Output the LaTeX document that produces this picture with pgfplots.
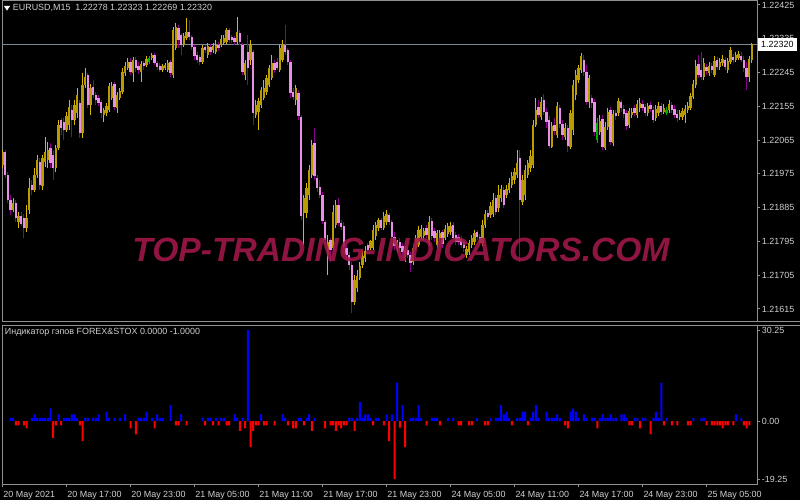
\documentclass[border=0pt]{standalone}
\usepackage{pgfplots}
\pgfplotsset{compat=1.18}
\usepackage{pgfplotstable}
\usepackage{graphicx}
\usepackage{fontspec}
\setmainfont{Liberation Sans}
\definecolor{bullw}{HTML}{D8B800}
\definecolor{bullb}{HTML}{B89C00}
\definecolor{bearw}{HTML}{8B008B}
\definecolor{bearb}{HTML}{E890E8}
\definecolor{greenc}{HTML}{00B000}
\definecolor{txt}{HTML}{D0D0D0}
\definecolor{frame}{HTML}{909090}
\definecolor{pline}{HTML}{7C8894}
\definecolor{wm}{HTML}{A3174B}

% prices in units of 0.00001 above 1.21000 ; t: 1 bull, 2 bear, 3 green
\pgfplotstableread{
i o h l c t
0 999 1039 991 1034 1
1 1034 1039 964 972 2
2 972 980 897 905 2
3 905 919 866 879 2
4 879 911 874 897 1
5 897 905 847 858 2
6 847 874 831 863 1
7 863 874 836 841 2
8 858 868 804 831 2
9 831 892 820 858 1
10 879 964 868 938 1
11 946 959 919 932 2
12 932 991 927 972 1
13 972 1026 964 1012 1
14 1007 1018 932 946 2
15 943 1026 932 1018 1
16 1007 1073 993 1034 1
17 1012 1060 991 1039 1
18 1044 1057 991 1004 2
19 1026 1039 959 991 2
20 991 1052 980 1044 1
21 1044 1118 1039 1105 1
22 1118 1124 1079 1097 2
23 1113 1124 1065 1092 2
24 1092 1140 1087 1129 1
25 1105 1172 1092 1153 1
26 1145 1159 1073 1118 2
27 1118 1172 1105 1159 1
28 1137 1204 1124 1185 1
29 1164 1172 1071 1084 2
30 1084 1244 1071 1212 1
31 1212 1257 1204 1233 1
32 1239 1244 1151 1159 2
33 1159 1214 1132 1204 1
34 1206 1225 1177 1185 2
35 1185 1193 1159 1172 2
36 1177 1185 1156 1164 2
37 1167 1172 1124 1137 2
38 1132 1151 1113 1145 1
39 1137 1164 1129 1156 1
40 1145 1217 1140 1209 1
41 1177 1220 1172 1209 1
42 1214 1220 1145 1153 2
43 1151 1193 1137 1185 1
44 1177 1204 1172 1195 1
45 1193 1257 1187 1247 1
46 1244 1273 1236 1262 1
47 1257 1284 1252 1273 1
48 1273 1284 1239 1247 2
49 1244 1286 1220 1278 1
50 1278 1286 1247 1257 2
51 1262 1273 1241 1252 2
52 1247 1275 1220 1267 1
53 1270 1275 1252 1262 2
54 1265 1289 1259 1281 1
55 1273 1289 1267 1284 3
56 1284 1297 1278 1292 1
57 1292 1297 1265 1270 2
58 1270 1275 1252 1259 2
59 1262 1270 1247 1252 2
60 1252 1267 1247 1262 1
61 1257 1270 1252 1265 1
62 1252 1278 1247 1270 1
63 1273 1278 1233 1244 2
64 1239 1366 1231 1358 1
65 1311 1377 1305 1366 1
66 1364 1372 1311 1332 2
67 1345 1350 1292 1319 2
68 1319 1350 1313 1342 1
69 1337 1390 1332 1353 1
70 1353 1385 1332 1339 2
71 1339 1345 1305 1313 2
72 1313 1319 1278 1289 2
73 1292 1300 1270 1278 2
74 1286 1292 1265 1273 2
75 1273 1319 1267 1311 1
76 1313 1319 1297 1305 2
77 1292 1324 1284 1316 1
78 1313 1321 1292 1300 2
79 1305 1324 1297 1316 1
80 1300 1332 1295 1319 1
81 1319 1327 1302 1311 2
82 1319 1345 1313 1334 1
83 1324 1345 1319 1337 1
84 1327 1364 1321 1358 1
85 1358 1364 1324 1332 2
86 1339 1345 1324 1332 2
87 1337 1342 1319 1327 2
88 1327 1393 1321 1353 1
89 1350 1358 1319 1327 2
90 1319 1324 1239 1247 2
91 1239 1278 1225 1270 1
92 1300 1345 1212 1257 2
93 1278 1332 1265 1319 1
94 1300 1305 1105 1137 2
95 1132 1172 1124 1159 1
96 1140 1177 1092 1169 1
97 1159 1206 1151 1198 1
98 1177 1225 1172 1204 1
99 1193 1239 1185 1231 1
100 1212 1265 1206 1257 1
101 1231 1292 1225 1270 1
102 1270 1278 1244 1252 2
103 1273 1284 1252 1257 2
104 1252 1319 1247 1311 1
105 1278 1332 1273 1321 1
106 1319 1372 1292 1300 2
107 1305 1311 1265 1273 2
108 1273 1278 1177 1190 2
109 1193 1204 1172 1180 2
110 1172 1212 1159 1204 1
111 1190 1198 1118 1129 2
112 1126 1132 852 863 2
113 871 919 786 911 1
114 871 951 858 938 1
115 919 999 905 985 1
116 972 1065 964 1052 1
117 1057 1097 959 970 2
118 964 972 927 938 2
119 940 959 911 919 2
120 919 927 841 849 2
121 847 852 786 799 2
122 759 812 706 794 1
123 799 804 741 772 2
124 778 892 772 874 1
125 839 905 831 892 1
126 892 911 836 844 2
127 844 852 825 833 2
128 836 847 767 780 2
129 778 786 746 759 2
130 759 767 719 732 2
131 732 741 604 634 2
132 634 706 626 692 1
133 671 719 661 703 1
134 698 741 692 730 1
135 732 772 725 756 1
136 751 783 741 770 1
137 786 791 764 772 2
138 778 799 772 796 1
139 778 839 772 825 1
140 810 847 799 839 1
141 831 858 823 852 1
142 852 858 825 831 2
143 831 874 825 863 1
144 847 879 839 868 1
145 866 871 839 847 2
146 847 852 799 807 2
147 807 820 772 783 2
148 778 799 767 796 1
149 794 804 767 778 2
150 783 791 751 767 2
151 751 783 741 772 1
152 772 783 751 759 2
153 759 767 714 738 2
154 741 786 732 778 1
155 778 812 772 804 1
156 786 836 780 825 1
157 807 839 799 828 1
158 810 831 799 823 1
159 831 839 804 812 2
160 791 863 783 847 1
161 849 858 799 810 2
162 823 831 794 804 2
163 786 825 778 817 1
164 804 825 799 817 1
165 820 825 778 788 2
166 804 839 799 828 1
167 815 844 807 836 1
168 820 847 812 836 1
169 839 847 799 804 2
170 812 820 786 794 2
171 807 815 786 794 2
172 801 810 778 786 2
173 794 799 767 778 2
174 759 783 751 775 1
175 767 799 759 791 1
176 786 812 778 804 1
177 794 825 786 817 1
178 820 825 799 807 2
179 807 815 786 794 2
180 791 852 783 839 1
181 839 879 831 868 1
182 871 879 852 860 2
183 866 900 858 889 1
184 868 924 860 905 1
185 911 919 866 874 2
186 884 946 874 919 1
187 911 946 900 935 1
188 932 940 884 892 2
189 919 946 911 935 1
190 932 964 924 951 1
191 946 980 938 970 1
192 959 991 948 980 1
193 972 1039 964 1004 1
194 1018 1039 741 905 2
195 900 972 892 959 1
196 919 999 905 985 1
197 972 1012 964 1004 1
198 991 1039 980 1023 1
199 999 1118 991 1105 1
200 1105 1177 1100 1145 1
201 1153 1172 1124 1132 2
202 1126 1180 1118 1167 1
203 1172 1188 1132 1140 2
204 1140 1151 1097 1113 2
205 1118 1129 1044 1049 2
206 1047 1113 1044 1102 1
207 1105 1124 1079 1089 2
208 1079 1167 1071 1156 1
209 1151 1159 1097 1108 2
210 1108 1118 1065 1079 2
211 1073 1110 1065 1097 1
212 1097 1105 1034 1049 2
213 1047 1145 1041 1137 1
214 1092 1225 1079 1212 1
215 1185 1252 1172 1239 1
216 1225 1265 1217 1257 1
217 1252 1297 1244 1289 1
218 1278 1292 1236 1247 2
219 1247 1265 1159 1167 2
220 1167 1239 1151 1231 1
221 1177 1185 1151 1164 2
222 1167 1174 1076 1087 2
223 1065 1124 1057 1110 3
224 1087 1132 1079 1116 1
225 1121 1132 1039 1047 2
226 1044 1113 1039 1100 1
227 1100 1151 1092 1140 1
228 1145 1153 1052 1060 2
229 1057 1145 1049 1134 1
230 1137 1145 1118 1129 2
231 1137 1177 1129 1169 1
232 1167 1172 1140 1151 2
233 1148 1159 1124 1134 2
234 1137 1145 1092 1102 2
235 1105 1151 1097 1142 1
236 1132 1151 1124 1140 1
237 1151 1159 1129 1137 2
238 1132 1172 1124 1161 1
239 1151 1177 1140 1164 1
240 1161 1172 1142 1151 2
241 1153 1161 1129 1137 2
242 1137 1164 1129 1156 1
243 1159 1167 1140 1148 2
244 1145 1156 1110 1118 2
245 1124 1159 1116 1148 1
246 1137 1167 1129 1156 1
247 1156 1164 1132 1140 2
248 1140 1161 1134 1151 1
249 1137 1153 1132 1145 3
250 1145 1172 1137 1161 1
251 1159 1167 1137 1145 2
252 1148 1159 1124 1132 2
253 1134 1145 1113 1124 2
254 1126 1145 1118 1137 1
255 1126 1151 1118 1142 1
256 1132 1159 1110 1148 1
257 1145 1167 1137 1156 1
258 1151 1190 1145 1182 1
259 1180 1225 1174 1214 1
260 1212 1278 1204 1262 1
261 1267 1292 1231 1239 2
262 1252 1300 1225 1233 2
263 1233 1284 1225 1270 1
264 1259 1267 1239 1249 2
265 1244 1273 1236 1262 1
266 1262 1270 1244 1252 2
267 1239 1289 1233 1275 1
268 1278 1286 1252 1259 2
269 1259 1284 1252 1273 1
270 1270 1292 1262 1281 1
271 1278 1286 1252 1259 2
272 1252 1284 1244 1275 1
273 1273 1313 1267 1305 1
274 1286 1295 1270 1278 2
275 1278 1300 1273 1292 1
276 1284 1302 1278 1295 1
277 1289 1300 1273 1278 2
278 1278 1289 1247 1257 2
279 1257 1273 1198 1233 2
280 1233 1289 1220 1281 1
281 1278 1324 1270 1320 1
}\candles

\pgfplotstableread{
i v
3 1.1
4 1.1
5 -1.4
6 -1.4
8 -1.4
9 -2.4
11 1.1
12 2.2
13 1.1
14 1.1
15 1.1
16 1.1
17 1.1
18 4.2
19 -5.6
20 -1.4
21 2.2
22 -1.4
23 1.1
24 1.1
25 1.1
26 2.2
27 2.2
28 1.1
29 -1.4
30 -6.7
31 1.1
32 1.1
34 1.1
35 1.1
36 2.2
39 3.1
40 1.1
42 1.1
44 1.1
46 2.2
48 -2.4
50 -4.4
51 1.1
52 1.1
53 1.1
54 3.1
56 1.1
57 -2.4
58 2.2
59 1.1
60 1.1
63 5.3
65 -1.4
66 -1.4
67 2.2
69 -1.4
75 1.1
76 -1.4
77 1.1
78 1.1
79 -1.4
80 1.1
81 -1.4
82 1.1
83 1.1
84 -1.4
85 -1.4
87 2.2
88 1.1
89 -3.3
90 1.1
91 -2.4
92 30.25
93 -8.7
94 -3.3
95 -1.4
96 -1.4
97 2.2
98 -1.4
99 -1.4
102 -1.4
105 2.2
106 1.1
107 -1.4
109 -2.4
110 -2.4
111 1.1
112 1.1
113 -1.4
114 1.1
115 2.2
116 -3.3
117 1.1
121 -2.4
123 -1.4
124 -1.4
125 -3.3
126 -1.4
127 -2.4
128 -1.4
129 -1.4
130 1.1
131 1.1
132 -3.3
133 1.1
134 6.4
135 1.1
136 2.2
137 2.2
138 1.1
139 -1.4
140 1.1
141 1.1
143 -1.4
144 2.2
145 -6.7
146 2.2
147 -19.25
148 12.8
149 -2.2
150 5.3
151 -8.7
153 1.1
154 1.1
155 1.1
156 5.3
157 1.1
159 -1.4
161 1.1
162 1.1
163 1.1
164 -1.4
167 1.1
169 1.1
171 -1.4
172 -1.4
175 -1.4
176 -1.4
178 1.1
181 -1.4
182 -1.4
183 1.1
185 1.1
186 1.1
187 5.3
188 2.2
189 3.1
190 1.1
191 -1.4
193 1.1
194 1.1
195 3.1
196 3.1
197 -1.4
198 1.1
199 3.1
200 5.3
201 1.1
204 3.1
205 1.1
206 1.1
207 1.1
208 2.2
209 1.1
211 -1.4
212 -2.4
213 3.1
214 4.1
215 3.1
216 1.1
218 2.2
219 1.1
221 1.1
222 1.1
223 -2.4
224 1.1
225 2.2
226 1.1
227 1.1
228 2.2
229 1.1
230 1.1
232 2.2
233 2.2
234 1.1
235 -1.4
236 -1.4
237 1.1
238 1.1
239 -2.4
240 1.1
241 1.1
243 -4.4
244 1.1
245 3.1
246 1.1
247 12.8
248 -1.4
249 1.1
251 -1.4
253 -1.4
257 -1.4
258 -1.4
259 1.1
262 1.1
263 1.1
264 -1.4
266 -1.4
267 -1.4
268 -1.4
269 -1.4
270 -2.4
271 -1.4
272 -1.4
274 -1.4
275 2.2
277 1.1
278 -1.4
279 -2.4
280 -1.4
}\gaps

\pgfplotsset{
  mtstyle/.style={
    scale only axis, enlargelimits=false,
    axis line style={frame, line width=0.75pt},
    tick style={frame, line width=0.75pt},
    tick align=outside, major tick length=2.5pt,
    every tick label/.append style={font=\fontsize{6.7}{8}\selectfont, text=txt},
    xmin=-0.19, xmax=282.9,
  },
}

\begin{document}
\begin{tikzpicture}[x=1pt,y=1pt]
\fill[black] (0pt,0pt) rectangle (600pt,375pt);

% ---------- price panel ----------
\begin{axis}[mtstyle,
  at={(1.5pt,133.5pt)}, anchor=south west,
  width=566.25pt, height=240.75pt,
  ymin=580.36, ymax=1435.66,
  xtick=\empty,
  ytick={615,705,795,885,975,1065,1155,1245,1335,1425},
  yticklabels={1.21615,1.21705,1.21795,1.21885,1.21975,1.22065,1.22155,1.22245,1.22335,1.22425},
  ytick pos=right, yticklabel pos=right,
  yticklabel style={anchor=west, inner sep=0pt, xshift=1pt},
]
\addplot[pline, line width=0.75pt] coordinates {(-0.19,1320) (282.9,1320)};
% wicks
\addplot[draw=none, mark=none, restrict expr to domain={\thisrow{t}}{0.5:1.5},
  error bars/.cd, y dir=plus, y explicit, error mark=none,
  error bar style={color=bullw, line width=0.75pt}]
  table[x=i, y=l, y error expr=\thisrow{h}-\thisrow{l}] {\candles};
\addplot[draw=none, mark=none, restrict expr to domain={\thisrow{t}}{1.5:2.5},
  error bars/.cd, y dir=plus, y explicit, error mark=none,
  error bar style={color=bearw, line width=0.75pt}]
  table[x=i, y=l, y error expr=\thisrow{h}-\thisrow{l}] {\candles};
\addplot[draw=none, mark=none, restrict expr to domain={\thisrow{t}}{2.5:3.5},
  error bars/.cd, y dir=plus, y explicit, error mark=none,
  error bar style={color=greenc, line width=0.75pt}]
  table[x=i, y=l, y error expr=\thisrow{h}-\thisrow{l}] {\candles};
% bodies
\addplot[draw=none, mark=none, restrict expr to domain={\thisrow{t}}{0.5:1.5},
  error bars/.cd, y dir=plus, y explicit, error mark=none,
  error bar style={color=bullb, line width=1.8pt}]
  table[x=i, y=o, y error expr=\thisrow{c}-\thisrow{o}] {\candles};
\addplot[draw=none, mark=none, restrict expr to domain={\thisrow{t}}{1.5:2.5},
  error bars/.cd, y dir=plus, y explicit, error mark=none,
  error bar style={color=bearb, line width=1.8pt}]
  table[x=i, y=c, y error expr=\thisrow{o}-\thisrow{c}] {\candles};
\addplot[draw=none, mark=none, restrict expr to domain={\thisrow{t}}{2.5:3.5},
  error bars/.cd, y dir=plus, y explicit, error mark=none,
  error bar style={color=greenc, line width=1.8pt}]
  table[x=i, y=o, y error expr=\thisrow{c}-\thisrow{o}] {\candles};
\end{axis}

% ---------- gap indicator panel ----------
\begin{axis}[mtstyle,
  at={(1.5pt,12pt)}, anchor=south west,
  width=566.25pt, height=118.875pt,
  ymin=-20.91, ymax=31.75,
  xtick={0,24,48,72,96,120,144,168,192,216,240,264},
  xticklabels={20 May 2021,20 May 17:00,20 May 23:00,21 May 05:00,21 May 11:00,21 May 17:00,21 May 23:00,24 May 05:00,24 May 11:00,24 May 17:00,24 May 23:00,25 May 05:00},
  xtick pos=bottom,
  xticklabel style={anchor=north west, inner sep=0pt, xshift=0.5pt, yshift=-2.6pt},
  ytick={-19.25,0,30.25},
  yticklabels={-19.25,0.00,30.25},
  ytick pos=right, yticklabel pos=right,
  yticklabel style={anchor=west, inner sep=0pt, xshift=1pt},
]
\addplot[ybar, bar width=0.75, fill=blue, draw=none, restrict y to domain=0:40]
  table[x=i, y=v] {\gaps};
\addplot[ybar, bar width=0.75, fill=red, draw=none, restrict y to domain=-40:0]
  table[x=i, y=v] {\gaps};
\end{axis}

% separator extension and price label
\draw[frame, line width=0.75pt] (567.75pt,133.5pt) -- (600pt,133.5pt);
\draw[frame, line width=0.75pt] (567.75pt,130.875pt) -- (600pt,130.875pt);
\fill[white] (568.5pt,337pt) rectangle (597.5pt,346.5pt);
\node[anchor=center, inner sep=0pt, text=black, font=\fontsize{6.7}{8}\selectfont] at (583pt,341.75pt) {1.22320};

% watermark
\node[anchor=center, inner sep=0pt, text=wm, opacity=0.88] at (300.75pt,187.5pt)
  {\resizebox{402.75pt}{17.6pt}{\bfseries\itshape TOP-TRADING-INDICATORS.COM}};

% titles
\fill[white] (3pt,370.5pt) -- (7.5pt,370.5pt) -- (5.25pt,367pt) -- cycle;
\node[anchor=west, inner sep=0pt, text=txt, font=\fontsize{6.7}{8}\selectfont] at (9.5pt,368.7pt)
  {EURUSD,M15\ \ 1.22278 1.22323 1.22269 1.22320};
\node[anchor=west, inner sep=0pt, text=txt, font=\fontsize{6.7}{8}\selectfont] at (3.5pt,126pt)
  {Индикатор гэпов FOREX\&STOX 0.0000 -1.0000};

\pgfresetboundingbox
\path[use as bounding box] (0pt,0pt) rectangle (600pt,375pt);
\end{tikzpicture}
\end{document}
